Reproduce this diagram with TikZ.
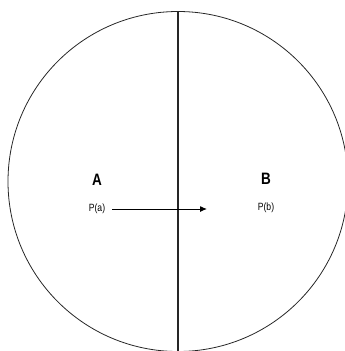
\documentclass[tikz,border=0pt]{standalone}
\usepackage{fontspec}
\setmainfont{Liberation Sans}[FakeStretch=0.82]
\usetikzlibrary{arrows.meta}
\begin{document}
\begin{tikzpicture}[x=1pt,y=-1pt,
  region/.style={circle,draw=black!85,line width=0.8pt,minimum size=340pt,inner sep=0pt},
  biglabel/.style={font=\fontsize{16.5}{18}\selectfont\bfseries,inner sep=0pt},
  plabel/.style={font=\fontsize{10.5}{12}\selectfont,inner sep=0pt}]
\useasboundingbox (0,0) rectangle (345,351);
\node[region] (c) at (178,181.5) {};
\draw[line width=1.3pt,black!85] (c.north) -- (c.south);
\node[biglabel] (A) at (97,180) {A};
\node[biglabel] (B) at (266,179) {B};
\node[plabel] (Pa) at (97,209) {P(a)};
\node[plabel] (Pb) at (266,208) {P(b)};
\coordinate (tip) at (207,209);
\draw[line width=1pt,-{Latex[length=7pt,width=6pt]}] ([xshift=7pt]Pa.east) -- (tip);
\end{tikzpicture}
\end{document}
